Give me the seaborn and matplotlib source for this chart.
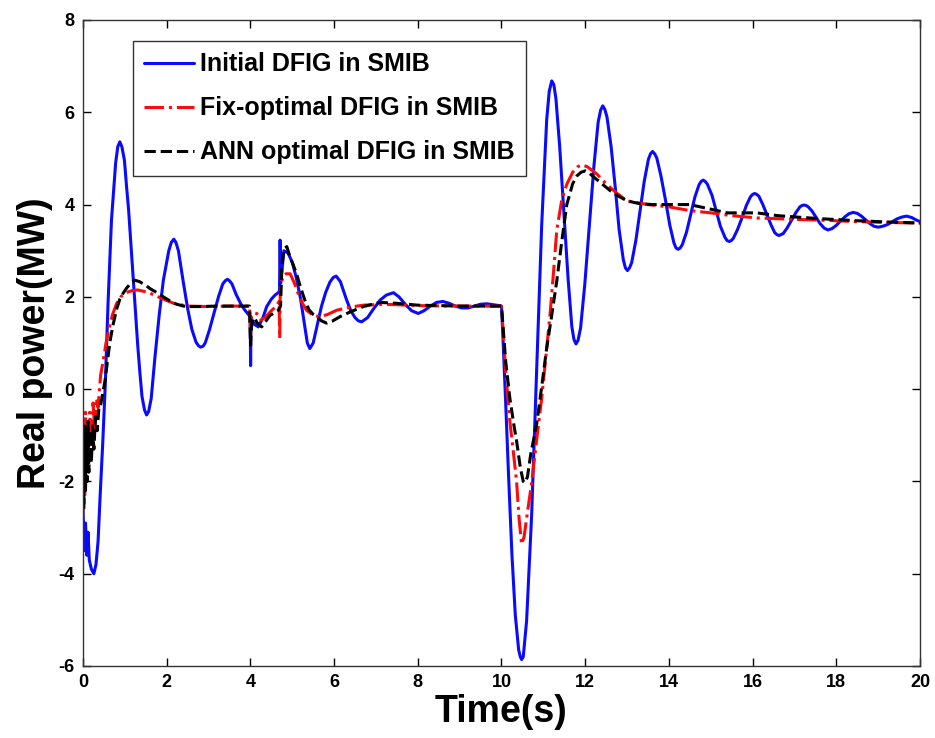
import numpy as np
import pandas as pd
import matplotlib
matplotlib.use("Agg")
import matplotlib.pyplot as plt
import seaborn as sns

# ---------------- data ----------------
t_initial = [0.0, 0.03, 0.06, 0.09, 0.12, 0.15, 0.2, 0.26, 0.31, 0.36, 0.41, 0.47, 0.53, 0.6, 0.68,
             0.78, 0.83, 0.88, 0.93, 0.99, 1.04, 1.09, 1.2, 1.31, 1.36, 1.41, 1.47, 1.52, 1.57, 1.63,
             1.72, 1.82, 1.92, 2.05, 2.11, 2.17, 2.22, 2.28, 2.4, 2.5, 2.6, 2.7, 2.76, 2.81, 2.87, 2.92,
             3.02, 3.13, 3.24, 3.34, 3.4, 3.45, 3.5, 3.56, 3.66, 3.77, 3.87, 3.97, 3.995, 4.005, 4.015,
             4.04, 4.1, 4.19, 4.3, 4.39, 4.5, 4.59, 4.68, 4.695, 4.71, 4.725, 4.8, 4.9, 5.0, 5.1, 5.2,
             5.3, 5.36, 5.42, 5.5, 5.6, 5.7, 5.8, 5.9, 5.98, 6.05, 6.15, 6.3, 6.4, 6.5, 6.58, 6.66, 6.8,
             6.95, 7.1, 7.25, 7.42, 7.55, 7.7, 7.85, 8.01, 8.15, 8.3, 8.45, 8.6, 8.75, 8.9, 9.05, 9.2,
             9.35, 9.5, 9.65, 9.8, 9.95, 10.0, 10.04, 10.1, 10.17, 10.25, 10.33, 10.41, 10.45, 10.48,
             10.52, 10.6, 10.72, 10.84, 10.96, 11.08, 11.14, 11.2, 11.25, 11.3, 11.39, 11.49, 11.59,
             11.68, 11.73, 11.78, 11.83, 11.89, 11.99, 12.1, 12.21, 12.31, 12.37, 12.42, 12.47, 12.52,
             12.62, 12.72, 12.81, 12.91, 12.96, 13.01, 13.06, 13.11, 13.21, 13.31, 13.41, 13.51, 13.56,
             13.61, 13.66, 13.71, 13.81, 13.92, 14.02, 14.12, 14.17, 14.22, 14.27, 14.32, 14.42, 14.52,
             14.62, 14.72, 14.77, 14.82, 14.87, 14.92, 15.03, 15.13, 15.23, 15.34, 15.39, 15.44, 15.49,
             15.54, 15.64, 15.75, 15.85, 15.95, 16.0, 16.05, 16.1, 16.15, 16.24, 16.34, 16.44, 16.53,
             16.58, 16.63, 16.68, 16.73, 16.83, 16.93, 17.03, 17.13, 17.18, 17.23, 17.28, 17.33, 17.42,
             17.52, 17.61, 17.71, 17.8, 17.9, 18.0, 18.1, 18.2, 18.3, 18.4, 18.5, 18.6, 18.7, 18.8,
             18.9, 19.0, 19.11, 19.23, 19.34, 19.45, 19.57, 19.68, 19.8, 19.9, 20.0]
p_initial = [-2.6, -3.5, -2.9, -3.6, -3.1, -3.7, -3.9, -4.0, -3.8, -3.3, -2.3, -1.2, 0.05, 1.9, 3.66,
             4.9, 5.25, 5.36, 5.25, 4.96, 4.4, 3.88, 2.4, 0.92, 0.35, -0.16, -0.45, -0.56, -0.48, -0.2,
             0.7, 1.6, 2.36, 3.0, 3.18, 3.25, 3.18, 3.0, 2.3, 1.75, 1.3, 1.02, 0.94, 0.91, 0.93, 1.0,
             1.28, 1.645, 2.01, 2.28, 2.35, 2.38, 2.35, 2.28, 2.05, 1.85, 1.71, 1.6, 1.55, 0.51, 1.55,
             1.5, 1.4, 1.35, 1.55, 1.79, 1.95, 2.04, 2.1, 2.15, 3.23, 2.3, 3.0, 2.95, 2.75, 2.4, 1.95,
             1.35, 1.0, 0.88, 1.0, 1.4, 1.8, 2.1, 2.32, 2.42, 2.45, 2.33, 1.93, 1.7, 1.55, 1.48, 1.46, 1.55,
             1.75, 1.93, 2.04, 2.09, 2.0, 1.84, 1.7, 1.64, 1.7, 1.8, 1.88, 1.9, 1.86, 1.8, 1.76, 1.76,
             1.8, 1.84, 1.85, 1.83, 1.81, 1.8, 1.0, -0.3, -1.9, -3.6, -4.9, -5.65, -5.8, -5.86,
             -5.8, -5.02, -2.73, 0.41, 3.55, 5.84, 6.45, 6.68, 6.6, 6.3, 5.26, 3.83, 2.41,
             1.36, 1.08, 0.98, 1.06, 1.33, 2.27, 3.56, 4.85, 5.79, 6.05, 6.14, 6.06, 5.9,
             5.25, 4.355, 3.46, 2.81, 2.63, 2.57, 2.63, 2.74, 3.22, 3.86, 4.5, 4.98, 5.1,
             5.15, 5.1, 5.01, 4.62, 4.09, 3.56, 3.17, 3.06, 3.03, 3.06, 3.13, 3.4, 3.78,
             4.16, 4.43, 4.5, 4.53, 4.5, 4.44, 4.2, 3.865, 3.53, 3.29, 3.22, 3.2, 3.22,
             3.27, 3.46, 3.72, 3.98, 4.17, 4.22, 4.24, 4.22, 4.18, 4.01, 3.785, 3.56, 3.39,
             3.35, 3.33, 3.35, 3.37, 3.5, 3.66, 3.82, 3.95, 3.98, 3.99, 3.98, 3.95, 3.86,
             3.72, 3.59, 3.49, 3.45, 3.48, 3.55, 3.64, 3.73, 3.8, 3.83, 3.81, 3.75, 3.67, 3.59,
             3.53, 3.51, 3.53, 3.57, 3.63, 3.69, 3.73, 3.75, 3.72, 3.67, 3.63]

t_fix = [0.0, 0.02, 0.04, 0.06, 0.08, 0.1, 0.13, 0.16, 0.2, 0.24, 0.28, 0.32, 0.36, 0.42, 0.48, 0.55,
         0.62, 0.7, 0.8, 0.9, 1.0, 1.15, 1.3, 1.45, 1.6, 1.8, 2.0, 2.2, 2.5, 3.0, 3.5, 3.98, 3.995,
         4.005, 4.02, 4.08, 4.15, 4.25, 4.35, 4.5, 4.62, 4.685, 4.7, 4.715, 4.78, 4.85, 4.95, 5.05,
         5.15, 5.25, 5.34, 5.5, 5.66, 5.85, 6.06, 6.4, 6.7, 7.2, 8.0, 9.0, 10.0, 10.05, 10.1, 10.2,
         10.3, 10.36, 10.42, 10.48, 10.54, 10.6, 10.72, 10.84, 10.96, 11.06, 11.16, 11.24, 11.32,
         11.44, 11.56, 11.7, 11.82, 11.92, 12.05, 12.27, 12.5, 12.75, 13.0, 13.5, 14.0, 14.5, 15.0,
         15.5, 16.1, 17.0, 17.7, 18.5, 19.3, 20.0]
p_fix = [-2.7, -1.0, -2.3, -0.5, -1.8, -0.8, -1.6, -0.5, -1.2, -0.3, -0.9, -0.2, -0.4, 0.3, 0.6, 1.0,
         1.3, 1.6, 1.85, 2.0, 2.08, 2.13, 2.15, 2.12, 2.08, 2.0, 1.92, 1.85, 1.8, 1.79, 1.8, 1.8, 1.4,
         1.1, 1.6, 1.65, 1.64, 1.5, 1.55, 1.7, 1.8, 1.9, 1.1, 2.2, 2.45, 2.5, 2.5, 2.3,
         2.05, 1.85, 1.71, 1.6, 1.57, 1.62, 1.71, 1.78, 1.82, 1.84, 1.81, 1.8, 1.8, 1.1, 0.4, -0.7,
         -1.5, -2.0, -2.8, -3.36, -3.2, -2.8, -2.03, -1.1, -0.2, 0.7, 1.62, 2.5, 3.44,
         4.1, 4.44, 4.7, 4.82, 4.86, 4.82, 4.67, 4.45, 4.25, 4.08, 4.0, 3.95, 3.87, 3.82,
         3.76, 3.71, 3.68, 3.66, 3.63, 3.61, 3.6]

t_ann = [0.0, 0.02, 0.04, 0.06, 0.08, 0.1, 0.12, 0.14, 0.17, 0.2, 0.23, 0.26, 0.3, 0.34, 0.38, 0.41,
         0.47, 0.53, 0.59, 0.65, 0.72, 0.8, 0.88, 0.96, 1.05, 1.15, 1.24, 1.35, 1.5, 1.6, 1.75, 1.92,
         2.1, 2.24, 2.4, 2.56, 2.8, 3.2, 3.6, 3.98, 3.995, 4.005, 4.02, 4.05, 4.1, 4.15, 4.2, 4.27,
         4.35, 4.47, 4.57, 4.67, 4.72, 4.75, 4.78, 4.82, 4.87, 4.95, 5.02, 5.1, 5.2, 5.3, 5.4, 5.5,
         5.58, 5.7, 5.82, 5.95, 6.14, 6.4, 6.7, 7.1, 7.5, 8.0, 9.0, 10.0, 10.05, 10.1, 10.2, 10.3,
         10.36, 10.45, 10.52, 10.56, 10.62, 10.7, 10.84, 10.96, 11.08, 11.2, 11.32, 11.44, 11.56,
         11.7, 11.8, 11.9, 12.0, 12.1, 12.2, 12.4, 12.6, 12.8, 13.0, 13.3, 13.6, 14.0, 14.5, 15.0,
         15.4, 16.1, 16.6, 17.2, 17.7, 18.5, 19.3, 20.0]
p_ann = [-1.2, -2.6, -0.8, -2.2, -1.0, -2.0, -0.7, -1.8, -0.9, -1.6, -0.8, -1.3, -0.6, -0.9, -0.4, -0.4,
         -0.1, 0.2, 0.65, 1.06, 1.4, 1.72, 1.95, 2.08, 2.2, 2.3, 2.36, 2.33, 2.25, 2.18, 2.1, 2.0,
         1.9, 1.84, 1.8, 1.79, 1.79, 1.8, 1.8, 1.8, 1.2, 0.95, 1.3, 1.5, 1.55, 1.45, 1.4, 1.35,
         1.45, 1.6, 1.65, 1.71, 1.8, 2.6, 2.9, 3.05, 3.09, 2.85, 2.7, 2.51, 2.2, 1.93, 1.72, 1.62,
         1.57, 1.48, 1.43, 1.47, 1.57, 1.68, 1.79, 1.88, 1.86, 1.82, 1.8, 1.8, 1.2, 0.6, -0.2, -0.8,
         -1.12, -1.7, -2.0, -2.03, -1.9, -1.4, -0.76, 0.05, 0.89, 1.6, 2.34, 3.2, 4.0,
         4.45, 4.62, 4.7, 4.73, 4.68, 4.6, 4.45, 4.3, 4.18, 4.08, 4.02, 4.0, 4.0, 4.0, 3.9,
         3.82, 3.82, 3.76, 3.72, 3.69, 3.65, 3.62, 3.6]

series_names = ["Initial DFIG in SMIB", "Fix-optimal DFIG in SMIB", "ANN optimal DFIG in SMIB"]
x_ticks = list(range(0, 21, 2))
y_ticks = list(range(-6, 9, 2))

# ---------------- plotting ----------------
sns.set_style("ticks")
plt.rcParams["font.family"] = ["Liberation Sans", "DejaVu Sans"]
plt.rcParams["font.weight"] = "bold"
plt.rcParams["axes.unicode_minus"] = False
for key in ["text.color", "axes.labelcolor", "xtick.color", "ytick.color"]:
    plt.rcParams[key] = "black"

fig = plt.figure(figsize=(9.35, 7.38), dpi=100)
ax = fig.add_axes([83 / 935, 1 - 666 / 738, (920 - 83) / 935, (666 - 20) / 738])

sns.lineplot(x=t_initial, y=p_initial, ax=ax, color="#0a0aff", linewidth=2.2,
             sort=False, estimator=None, label=series_names[0])
sns.lineplot(x=t_fix, y=p_fix, ax=ax, color="#ff0a0a", linewidth=2.2, linestyle="-.",
             sort=False, estimator=None, label=series_names[1])
sns.lineplot(x=t_ann, y=p_ann, ax=ax, color="black", linewidth=2.2, linestyle="--",
             sort=False, estimator=None, label=series_names[2])

ax.set_xlim(0, 20)
ax.set_ylim(-6, 8)
ax.set_xticks(x_ticks)
ax.set_yticks(y_ticks)
ax.tick_params(direction="in", length=6, width=1, top=True, right=True,
               labelsize=13, pad=6, colors="black")
for lbl in ax.get_xticklabels() + ax.get_yticklabels():
    lbl.set_fontweight("bold")
for sp in ax.spines.values():
    sp.set_visible(True)
    sp.set_linewidth(1.0)
    sp.set_color("#333333")

ax.set_xlabel("Time(s)", fontsize=27, fontweight="bold", labelpad=2, color="black")
ax.set_ylabel("Real power(MW)", fontsize=27, fontweight="bold", labelpad=4, color="black")

leg = ax.legend(loc="upper left", bbox_to_anchor=(133 / 935, 1 - 41 / 738),
                bbox_transform=fig.transFigure, fontsize=18, frameon=True,
                fancybox=False, edgecolor="black", handlelength=2.0,
                handletextpad=0.25, labelspacing=0.8, borderpad=0.45,
                borderaxespad=0)
leg.get_frame().set_linewidth(1.0)
for txt in leg.get_texts():
    txt.set_fontweight("bold")
    txt.set_color("black")

fig.savefig("out.png", dpi=100)
